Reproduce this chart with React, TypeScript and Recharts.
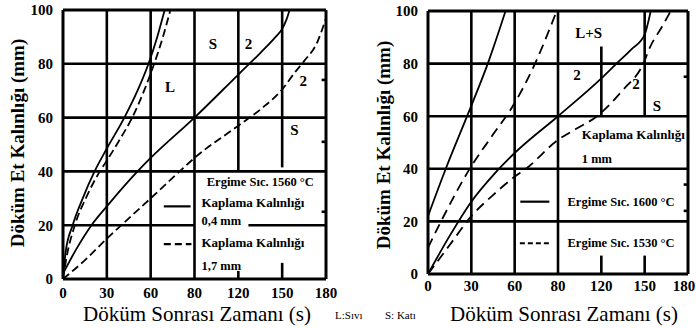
import React from 'react';
import { LineChart, Line, XAxis, YAxis, ReferenceLine, ReferenceDot } from 'recharts';

type P = { x: number; y: number };
const pts = (a: number[][]): P[] => a.map(([x, y]) => ({ x, y }));

// Axis ticks (x positions are equally spaced grid columns)
const xTickLabels = ['0', '30', '60', '80', '120', '150', '180'];
const xTickIndex = [0, 1, 2, 3, 4, 5, 6];
const yTickValues = [0, 20, 40, 60, 80, 100];

// Left panel: Ergime Sıc. 1560 °C
const left04mmLiquid = pts([[0, 0], [0.06, 10], [0.22, 20], [0.45, 30], [0.72, 40], [1.0, 48.5], [1.4, 60], [1.7, 70], [1.95, 80], [2.15, 90], [2.32, 100]]);
const left17mmLiquid = pts([[0, 0], [0.08, 8], [0.27, 20], [0.52, 30], [0.84, 40], [1.0, 44], [1.3, 52], [1.58, 60], [1.85, 70], [2.08, 80], [2.28, 90], [2.45, 100]]);
const left04mmSolid = pts([[0, 2], [0.3, 11], [0.65, 20], [1.0, 27], [1.7, 40], [2.0, 45], [3.0, 60], [4.0, 76], [4.5, 84], [4.85, 90], [5.0, 93], [5.1, 96.5], [5.17, 100]]);
const left17mmSolid = pts([[0, 0], [0.5, 7], [1.0, 15], [1.33, 20], [2.0, 30], [2.66, 40], [3.0, 45], [4.0, 57], [4.5, 63], [5.0, 70.5], [5.3, 77], [5.5, 81], [5.8, 88], [6.0, 97]]);

// Right panel: Kaplama Kalınlığı 1 mm
const right1600Liquid = pts([[0, 22], [0.41, 40], [1.0, 64], [1.38, 80], [1.79, 100]]);
const right1530Liquid = pts([[0, 10], [0.3, 20], [1.0, 41], [1.5, 53], [2.0, 65], [2.47, 80], [2.97, 100]]);
const right1600Solid = pts([[0, 0], [0.5, 14.5], [1.0, 27.5], [1.5, 37.5], [2.0, 46], [3.0, 60], [4.0, 74.4], [4.35, 80], [4.7, 85.5], [5.0, 91], [5.07, 95], [5.14, 100]]);
const right1530Solid = pts([[0, 0], [0.5, 11], [1.0, 22], [1.5, 30], [2.0, 37], [2.26, 40], [3.0, 51], [3.4, 55], [3.9, 60], [4.5, 70], [4.97, 80], [5.13, 86.5], [5.4, 94], [5.6, 100]]);

const FONT = "'Liberation Serif', 'Times New Roman', serif";

type Seg = [number, number, number, number];
type Txt = { x: number; y: number; t: string; size: number; anchor?: 'start' | 'middle' | 'end' };
type Curve = { data: P[]; dashed: boolean };

const border: Seg[] = [[0, 0, 6, 0], [6, 0, 6, 100], [6, 100, 0, 100], [0, 100, 0, 0]];

const leftGrid: Seg[] = [
  [1, 0, 1, 100], [2, 0, 2, 100], [3, 0, 3, 100],
  [4, 40, 4, 100], [4, 0, 4, 3], [5, 41.5, 5, 100], [5, 0, 5, 6],
  [0, 80, 6, 80], [0, 60, 6, 60], [0, 40, 6, 40],
  [0, 20, 3, 20], [4.23, 20, 6, 20],
  [5.9, 74, 6, 74], [5.9, 51, 6, 51], [5.9, 25, 6, 25],
];
const rightGrid: Seg[] = [
  [1, 0, 1, 100], [2, 0, 2, 100], [3, 0, 3, 100],
  [4, 60, 4, 86.5], [4, 0, 4, 7], [5, 60, 5, 100], [5, 0, 5, 7],
  [0, 80, 6, 80], [0, 60, 6, 60], [0, 40, 6, 40], [0, 20, 6, 20],
  [5.9, 75, 6, 75], [5.9, 34, 6, 34], [5.9, 24, 6, 24],
];

const leftLegendSolid: Seg[] = [[2.3, 27, 2.91, 27]];
const leftLegendDashed: Seg[] = [[2.3, 13, 2.93, 13]];
const rightLegendSolid: Seg[] = [[2.13, 27.5, 2.8, 27.5]];
const rightLegendDashed: Seg[] = [[2.12, 11.7, 2.8, 11.7]];

const leftTexts: Txt[] = [
  { x: 3.42, y: 87.4, t: 'S', size: 15 },
  { x: 4.23, y: 87.4, t: '2', size: 15 },
  { x: 2.44, y: 71.5, t: 'L', size: 15 },
  { x: 5.48, y: 73.5, t: '2', size: 15 },
  { x: 5.28, y: 55.5, t: 'S', size: 15 },
  { x: 3.28, y: 36, t: 'Ergime Sıc. 1560 °C', size: 12.5, anchor: 'start' },
  { x: 3.16, y: 28.5, t: 'Kaplama Kalınlığı', size: 13, anchor: 'start' },
  { x: 3.16, y: 21.5, t: '0,4 mm', size: 12.5, anchor: 'start' },
  { x: 3.16, y: 13.6, t: 'Kaplama Kalınlığı', size: 13, anchor: 'start' },
  { x: 3.16, y: 5, t: '1,7 mm', size: 12.5, anchor: 'start' },
];
const rightTexts: Txt[] = [
  { x: 3.71, y: 91.7, t: 'L+S', size: 15 },
  { x: 3.44, y: 75.8, t: '2', size: 15 },
  { x: 4.8, y: 72.4, t: '2', size: 15 },
  { x: 5.28, y: 63.8, t: 'S', size: 15 },
  { x: 3.55, y: 53, t: 'Kaplama Kalınlığı', size: 13, anchor: 'start' },
  { x: 3.55, y: 43.8, t: '1 mm', size: 12.5, anchor: 'start' },
  { x: 3.22, y: 27.5, t: 'Ergime Sıc. 1600 °C', size: 12.5, anchor: 'start' },
  { x: 3.22, y: 11.7, t: 'Ergime Sıc. 1530 °C', size: 12.5, anchor: 'start' },
];

type PanelProps = {
  margin: { top: number; right: number; bottom: number; left: number };
  yAxisWidth: number;
  xAxisHeight: number;
  xTickMargin: number;
  lastTickShift: number;
  curves: Curve[];
  grid: Seg[];
  legendSolid: Seg[];
  legendDashed: Seg[];
  legendDash: string;
  curveDash: string;
  texts: Txt[];
};

function segLine(s: Seg, key: string, width: number, dash?: string) {
  return (
    <ReferenceLine
      key={key}
      segment={[{ x: s[0], y: s[1] }, { x: s[2], y: s[3] }]}
      stroke="#000"
      strokeWidth={width}
      strokeDasharray={dash}
      ifOverflow="visible"
    />
  );
}

function Panel(p: PanelProps) {
  const XTick = (tp: any) => {
    const v = tp.payload.value as number;
    return (
      <text
        x={tp.x + (v === 6 ? p.lastTickShift : 0)}
        y={tp.y}
        dy="0.71em"
        textAnchor="middle"
        fontFamily={FONT}
        fontWeight={700}
        fontSize={15}
        fill="#000"
      >
        {xTickLabels[v]}
      </text>
    );
  };
  return (
    <LineChart width={348} height={328} margin={p.margin}>
      <XAxis
        type="number"
        dataKey="x"
        domain={[0, 6]}
        ticks={xTickIndex}
        interval={0}
        axisLine={false}
        tickLine={false}
        tickSize={0}
        tickMargin={p.xTickMargin}
        height={p.xAxisHeight}
        allowDataOverflow
        tick={XTick}
      />
      <YAxis
        type="number"
        dataKey="y"
        domain={[0, 100]}
        ticks={yTickValues}
        interval={0}
        axisLine={false}
        tickLine={false}
        tickSize={0}
        tickMargin={10}
        width={p.yAxisWidth}
        allowDataOverflow
        tick={{ fill: '#000', fontSize: 15, fontWeight: 700, fontFamily: FONT }}
      />
      {p.grid.map((s, i) => segLine(s, 'g' + i, 2.6))}
      {border.map((s, i) => segLine(s, 'b' + i, 3))}
      {p.legendSolid.map((s, i) => segLine(s, 'ls' + i, 2.2))}
      {p.legendDashed.map((s, i) => segLine(s, 'ld' + i, 2.2, p.legendDash))}
      {p.curves.map((c, i) => (
        <Line
          key={'c' + i}
          data={c.data}
          dataKey="y"
          type="monotone"
          stroke="#000"
          strokeWidth={1.8}
          strokeDasharray={c.dashed ? p.curveDash : undefined}
          dot={false}
          activeDot={false}
          isAnimationActive={false}
        />
      ))}
      {p.texts.map((t, i) => (
        <ReferenceDot
          key={'t' + i}
          x={t.x}
          y={t.y}
          r={0}
          ifOverflow="visible"
          shape={(sp: any) => (
            <text
              x={sp.cx}
              y={sp.cy}
              textAnchor={t.anchor || 'middle'}
              dominantBaseline="central"
              fontFamily={FONT}
              fontWeight={700}
              fontSize={t.size}
              fill="#000"
            >
              {t.t}
            </text>
          )}
        />
      ))}
    </LineChart>
  );
}

const abs = (left: number, top: number, extra: React.CSSProperties = {}): React.CSSProperties => ({
  position: 'absolute',
  left,
  top,
  whiteSpace: 'nowrap',
  fontFamily: FONT,
  color: '#000',
  lineHeight: 1,
  ...extra,
});

export default function App() {
  return (
    <div style={{ position: 'absolute', left: 0, top: 0, width: 696, height: 328, background: '#fff', overflow: 'hidden' }}>
      <div style={{ position: 'absolute', left: 0, top: 0 }}>
        <Panel
          margin={{ top: 10, right: 22, bottom: 0, left: 0 }}
          yAxisWidth={63}
          xAxisHeight={49}
          xTickMargin={8}
          lastTickShift={0}
          curves={[
            { data: left04mmLiquid, dashed: false },
            { data: left17mmLiquid, dashed: true },
            { data: left04mmSolid, dashed: false },
            { data: left17mmSolid, dashed: true },
          ]}
          grid={leftGrid}
          legendSolid={leftLegendSolid}
          legendDashed={leftLegendDashed}
          legendDash="7 4"
          curveDash="8 4"
          texts={leftTexts}
        />
      </div>
      <div style={{ position: 'absolute', left: 348, top: 0 }}>
        <Panel
          margin={{ top: 11, right: 8, bottom: 0, left: 0 }}
          yAxisWidth={80}
          xAxisHeight={54}
          xTickMargin={6}
          lastTickShift={-4}
          curves={[
            { data: right1600Liquid, dashed: false },
            { data: right1530Liquid, dashed: true },
            { data: right1600Solid, dashed: false },
            { data: right1530Solid, dashed: true },
          ]}
          grid={rightGrid}
          legendSolid={rightLegendSolid}
          legendDashed={rightLegendDashed}
          legendDash="5 3"
          curveDash="10 6"
          texts={rightTexts}
        />
      </div>
      <div style={abs(17, 143, { transform: 'translate(-50%,-50%) rotate(-90deg)', fontSize: 19, fontWeight: 700 })}>
        Döküm Et Kalınlığı (mm)
      </div>
      <div style={abs(383, 145, { transform: 'translate(-50%,-50%) rotate(-90deg)', fontSize: 19, fontWeight: 700 })}>
        Döküm Et Kalınlığı (mm)
      </div>
      <div style={abs(197, 314, { transform: 'translate(-50%,-50%)', fontSize: 21 })}>Döküm Sonrası Zamanı (s)</div>
      <div style={abs(564, 314, { transform: 'translate(-50%,-50%)', fontSize: 21 })}>Döküm Sonrası Zamanı (s)</div>
      <div style={abs(335, 315, { transform: 'translateY(-50%)', fontSize: 11 })}>L:Sıvı</div>
      <div style={abs(385, 315, { transform: 'translateY(-50%)', fontSize: 11 })}>S: Katı</div>
    </div>
  );
}
